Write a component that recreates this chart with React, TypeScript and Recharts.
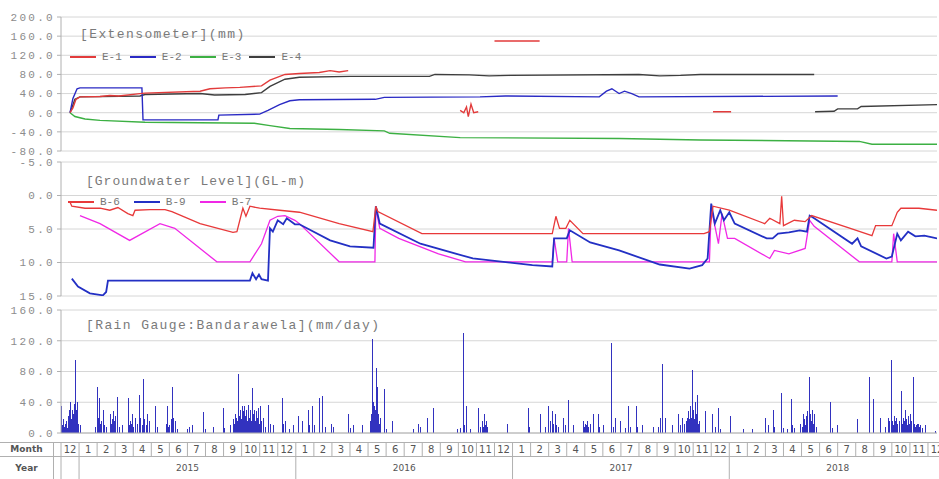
import React from 'react';
import { ComposedChart, Line, Bar, XAxis, YAxis, CartesianGrid } from 'recharts';

// x values are months since 1 Dec 2014 (0 = Dec 2014, 1 = Jan 2015, ... 48 = Dec 2018)
const X_DOMAIN: [number, number] = [0, 48.5];

// ---- Extensometer (mm) ----
const extTicks = [-80, -40, 0, 40, 80, 120, 160, 200];
const e1: [number, number | null][] = [
  [0.5, 0], [0.66, 10], [0.83, 28], [1.05, 33], [2.16, 34], [2.7, 36], [3.2, 35], [4.37, 40],
  [4.65, 41], [7.7, 45], [8.25, 50], [9.1, 52], [9.9, 53], [11.1, 56], [11.57, 68], [12.4, 80],
  [13.2, 82], [14.3, 84], [14.9, 88], [15.4, 85], [15.9, 88], [16.0, null],
  [22.1, 5], [22.3, 0], [22.45, 12], [22.55, -8], [22.7, 18], [22.85, 0], [23.1, 2], [23.2, null],
  [24.0, 150], [26.5, 150], [26.6, null],
  [36.1, 2], [37.1, 2],
];
const e2: [number, number | null][] = [
  [0.5, 0], [0.66, 30], [0.89, 50], [1.05, 52], [4.48, 52], [4.54, -15], [8.69, -15], [8.74, -5],
  [11.0, -3], [11.46, 5], [12.1, 17], [12.67, 25], [13.2, 27], [17.4, 28], [17.9, 32], [23.2, 33],
  [24.6, 35], [29.8, 33], [30.2, 45], [30.5, 50], [30.9, 40], [31.2, 45], [31.6, 40], [32.0, 33],
  [43.0, 35],
];
const e3: [number, number | null][] = [
  [0.5, 0], [0.77, -8], [1.33, -13], [2.16, -16], [4.65, -20], [7.7, -21], [10.7, -22],
  [11.57, -27], [12.67, -33], [15.4, -35], [17.9, -38], [18.2, -43], [22.1, -52], [30.9, -54],
  [35.4, -57], [44.2, -60], [44.9, -66], [48.5, -66],
];
const e4: [number, number | null][] = [
  [0.5, 0], [0.6, 10], [0.77, 28], [1.05, 33], [4.37, 35], [4.65, 38], [7.7, 40], [8.5, 37],
  [10.2, 38], [11.1, 42], [11.57, 55], [12.4, 70], [13.2, 74], [16.0, 76], [20.4, 76], [20.7, 80],
  [22.6, 79], [23.7, 77], [24.85, 78], [32.0, 80], [33.15, 77], [34.3, 78], [35.4, 80], [41.7, 80],
  [41.72, null],
  [41.75, 2], [42.8, 3], [43.0, 8], [44.1, 8], [44.3, 13], [48.5, 17],
];

// ---- Groundwater level (GL-m) ----
const gwTicks = [-5, 0, 5, 10, 15];
const b6: [number, number][] = [
  [0.5, 1.0], [0.6, 1.6], [1.33, 1.9], [2.16, 1.9], [2.7, 2.2], [3.15, 1.8], [3.7, 2.7], [3.98, 3.0],
  [4.1, 2.2], [4.93, 2.1], [5.76, 2.1], [6.14, 2.4], [7.7, 4.2], [9.52, 5.5], [9.74, 5.4],
  [10.07, 1.9], [10.24, 3.1], [10.46, 1.6], [11.0, 1.9], [12.1, 2.2], [13.2, 2.5], [15.4, 4.2],
  [17.27, 5.4], [17.43, 1.6], [17.54, 2.4], [19.98, 5.7], [27.2, 5.7], [27.4, 3.1], [27.6, 4.9],
  [27.95, 4.9], [28.17, 3.7], [28.9, 5.7], [35.6, 5.7], [35.9, 5.4], [36.1, 1.6], [37.0, 2.2],
  [38.96, 4.2], [39.24, 3.4], [39.8, 4.2], [39.9, 0.1], [40.0, 4.5], [40.6, 3.7], [41.2, 3.9],
  [41.56, 3.0], [43.7, 4.9], [44.9, 6.0], [45.1, 4.5], [46.0, 4.5], [46.3, 2.5], [46.5, 1.9],
  [47.5, 1.9], [48.5, 2.2],
];
const b9: [number, number][] = [
  [0.6, 12.4], [0.94, 13.6], [1.6, 14.6], [2.32, 14.9], [2.5, 14.4], [2.6, 12.7], [10.46, 12.7],
  [10.6, 11.6], [10.8, 12.5], [10.96, 11.8], [11.1, 12.5], [11.46, 12.7], [11.57, 4.9],
  [11.73, 5.4], [12.0, 3.7], [12.3, 4.3], [12.5, 3.4], [12.95, 4.3], [13.2, 4.3], [14.9, 6.7],
  [16.0, 7.6], [17.3, 7.8], [17.43, 1.6], [17.65, 4.2], [19.9, 7.2], [22.8, 9.4], [26.1, 10.4],
  [27.2, 10.6], [27.3, 6.4], [28.0, 6.4], [28.17, 5.2], [29.3, 7.0], [30.9, 8.2], [33.15, 10.3],
  [34.8, 10.9], [35.5, 10.4], [35.8, 9.4], [36.0, 1.2], [36.2, 4.2], [36.5, 2.2], [36.7, 3.7],
  [37.0, 2.5], [37.3, 4.2], [39.07, 6.4], [39.4, 6.4], [39.7, 5.7], [40.3, 5.5], [40.9, 5.2],
  [41.3, 5.4], [41.45, 3.0], [41.7, 3.4], [43.8, 7.2], [44.1, 6.4], [44.3, 7.6], [45.7, 9.4],
  [46.0, 9.1], [46.3, 5.7], [46.5, 6.7], [46.9, 5.4], [47.3, 6.1], [47.8, 6.0], [48.5, 6.4],
];
const b7: [number, number][] = [
  [1.05, 3.0], [2.16, 4.2], [3.8, 6.7], [5.48, 4.2], [6.3, 4.9], [8.63, 9.9], [10.46, 9.9],
  [11.1, 7.2], [11.57, 3.7], [12.0, 3.1], [12.4, 3.0], [12.95, 3.7], [13.2, 4.2], [15.4, 9.9],
  [17.38, 9.9], [17.43, 1.9], [17.65, 4.9], [18.7, 6.4], [20.9, 8.7], [22.4, 9.9], [27.2, 9.9],
  [27.3, 6.4], [27.5, 9.9], [28.0, 9.9], [28.1, 4.9], [28.3, 9.9], [35.9, 9.9], [36.0, 1.9],
  [36.4, 7.2], [36.6, 2.7], [36.9, 6.4], [37.3, 6.4], [39.24, 9.4], [39.5, 8.2], [40.3, 8.7],
  [41.2, 7.9], [41.45, 3.7], [41.7, 4.6], [44.2, 9.9], [46.0, 9.9], [46.1, 5.7], [46.3, 9.9],
  [48.5, 9.9],
];

// ---- Rain gauge (mm/day) ----
const rainTicks = [0, 40, 80, 120, 160];
const rain: [number, number][] = [
  [0.0, 35], [0.05, 10], [0.1, 18], [0.15, 8], [0.2, 12], [0.28, 15], [0.35, 6], [0.4, 22],
  [0.45, 30], [0.5, 40], [0.55, 18], [0.6, 30], [0.65, 25], [0.7, 38], [0.77, 95], [0.83, 30],
  [0.89, 40], [0.95, 12], [1.05, 10], [1.9, 8], [1.99, 60], [2.05, 20], [2.1, 45], [2.15, 12],
  [2.2, 15], [2.32, 30], [2.4, 10], [2.5, 8], [2.7, 25], [2.75, 12], [2.8, 18], [2.85, 10],
  [2.9, 28], [2.95, 15], [3.0, 22], [3.1, 47], [3.2, 8], [3.38, 10], [3.71, 45], [3.76, 10],
  [3.8, 15], [3.88, 12], [3.93, 25], [4.0, 8], [4.1, 20], [4.2, 12], [4.32, 50], [4.4, 20],
  [4.47, 10], [4.54, 70], [4.62, 18], [4.7, 10], [4.76, 25], [4.87, 15], [5.2, 35], [5.3, 8],
  [5.8, 12], [5.87, 35], [5.95, 8], [6.0, 10], [6.07, 18], [6.14, 60], [6.2, 20], [6.3, 15],
  [6.45, 5], [7.0, 5], [7.1, 8], [7.25, 10], [7.86, 27], [7.95, 5], [8.41, 8], [8.97, 33],
  [9.05, 6], [9.35, 10], [9.5, 8], [9.55, 18], [9.6, 12], [9.65, 25], [9.7, 20], [9.75, 15],
  [9.8, 77], [9.85, 22], [9.88, 15], [9.92, 30], [9.96, 18], [10.0, 35], [10.04, 20],
  [10.08, 28], [10.12, 18], [10.15, 35], [10.2, 22], [10.25, 30], [10.3, 15], [10.35, 36],
  [10.4, 20], [10.46, 30], [10.5, 15], [10.57, 58], [10.62, 18], [10.65, 25], [10.7, 30],
  [10.75, 15], [10.8, 28], [10.85, 20], [10.9, 32], [10.95, 12], [11.0, 35], [11.05, 10],
  [11.1, 15], [11.18, 20], [11.3, 8], [11.46, 37], [11.55, 12], [11.73, 10], [12.23, 45],
  [12.3, 12], [12.4, 15], [12.6, 5], [12.84, 10], [13.12, 22], [13.34, 15], [13.67, 30],
  [13.75, 10], [13.89, 35], [14.0, 10], [14.28, 45], [14.44, 48], [14.6, 8], [14.94, 12],
  [15.05, 8], [15.88, 25], [16.0, 6], [16.16, 10], [16.66, 10], [17.1, 15], [17.15, 25],
  [17.21, 122], [17.24, 30], [17.27, 40], [17.3, 22], [17.32, 35], [17.35, 28], [17.38, 30],
  [17.43, 85], [17.46, 35], [17.49, 60], [17.52, 20], [17.55, 25], [17.6, 12], [17.65, 20],
  [17.88, 57], [18.0, 5], [18.32, 15], [19.48, 5], [19.76, 12], [19.85, 8], [20.25, 20],
  [20.59, 32], [21.91, 5], [22.1, 6], [22.25, 130], [22.33, 10], [22.41, 35], [22.63, 5],
  [23.08, 33], [23.2, 8], [23.3, 15], [23.35, 8], [23.41, 25], [23.47, 10], [23.52, 15],
  [23.6, 8], [24.68, 12], [25.84, 32], [25.9, 8], [26.51, 25], [26.8, 8], [26.95, 35],
  [27.05, 15], [27.1, 10], [27.17, 28], [27.25, 12], [27.34, 25], [27.42, 10], [27.5, 8],
  [27.78, 20], [27.9, 10], [28.06, 43], [28.33, 10], [28.9, 15], [28.95, 8], [29.0, 12],
  [29.05, 10], [29.1, 15], [29.2, 8], [29.3, 12], [29.44, 25], [29.72, 25], [29.8, 8],
  [30.0, 10], [30.44, 117], [30.55, 8], [30.66, 20], [30.94, 15], [31.2, 6], [31.38, 35],
  [31.5, 8], [31.82, 35], [31.9, 8], [32.15, 10], [32.76, 8], [33.05, 8], [33.15, 20],
  [33.26, 90], [33.43, 20], [33.81, 10], [34.14, 25], [34.25, 10], [34.37, 20], [34.5, 12],
  [34.6, 15], [34.64, 20], [34.68, 12], [34.72, 28], [34.77, 18], [34.81, 35], [34.86, 20],
  [34.92, 82], [34.96, 25], [35.0, 30], [35.05, 18], [35.09, 40], [35.12, 20], [35.15, 25],
  [35.2, 50], [35.25, 12], [35.3, 15], [35.64, 28], [36.03, 25], [36.2, 8], [36.36, 32],
  [36.5, 5], [37.02, 22], [37.74, 5], [38.24, 5], [38.96, 20], [39.13, 10], [39.4, 30],
  [39.5, 8], [39.85, 52], [39.95, 6], [40.18, 5], [40.4, 44], [40.5, 10], [40.6, 6],
  [40.9, 12], [41.0, 8], [41.06, 25], [41.1, 12], [41.15, 18], [41.2, 10], [41.25, 22],
  [41.32, 28], [41.39, 73], [41.43, 20], [41.47, 25], [41.52, 15], [41.56, 30], [41.62, 12],
  [41.67, 25], [41.8, 8], [42.56, 40], [42.7, 6], [42.94, 10], [44.05, 18], [44.71, 73],
  [44.94, 44], [45.32, 20], [45.6, 8], [45.77, 20], [45.85, 15], [45.93, 95], [45.97, 12],
  [46.0, 15], [46.05, 10], [46.1, 22], [46.15, 15], [46.21, 20], [46.25, 10], [46.3, 12],
  [46.4, 15], [46.49, 55], [46.55, 12], [46.6, 20], [46.65, 15], [46.71, 30], [46.75, 12],
  [46.8, 18], [46.85, 10], [46.9, 22], [46.94, 12], [46.98, 25], [47.03, 10], [47.07, 15],
  [47.15, 73], [47.2, 10], [47.25, 12], [47.3, 8], [47.35, 10], [47.4, 12], [47.45, 12],
  [47.5, 8], [47.54, 10], [47.65, 6], [47.81, 10], [48.37, 2],
];

// ---- table below the rain chart ----
const monthLabels = ['12', '1', '2', '3', '4', '5', '6', '7', '8', '9', '10', '11'];
const yearLabels = ['2015', '2016', '2017', '2018'];

const MONO = '"Liberation Mono", "DejaVu Sans Mono", monospace';
const SANS = '"DejaVu Sans", "Liberation Sans", sans-serif';
const GRID = '#d6d6d6';
const AXIS = '#b0b0b0';
const RAIN = '#3232bf';

const toRows = (pts: [number, number | null][]) => pts.map(([t, v]) => ({ t, v }));

const yTick = { fill: '#8c8c8c', fontSize: 11, fontFamily: MONO, letterSpacing: 2.3 };

const monthTicks: number[] = [];
for (let k = 0; k <= 48; k++) monthTicks.push(k, k + 0.5);
const yearTicks = [0, 1, 7, 13, 19, 25, 31, 37, 43];

function MonthTick(props: any) {
  const { x, y, payload } = props;
  const v = payload.value as number;
  if (Number.isInteger(v)) {
    return <line x1={x} x2={x} y1={y + 9} y2={y + 23} stroke={AXIS} />;
  }
  const label = monthLabels[Math.floor(v) % 12];
  return (
    <text x={x} y={y + 20} textAnchor="middle" fontSize={10} fontFamily={SANS} fill="#555">
      {label}
    </text>
  );
}

function YearTick(props: any) {
  const { x, y, payload } = props;
  const v = payload.value as number;
  if ((v - 1) % 12 === 0 || v === 0) {
    return <line x1={x} x2={x} y1={y} y2={y + 22} stroke={AXIS} />;
  }
  const label = yearLabels[Math.floor((v - 7) / 12)];
  return (
    <text x={x} y={y + 14} textAnchor="middle" fontSize={9} fontFamily={SANS} fill="#555">
      {label}
    </text>
  );
}

// daily rain bars are narrower than a pixel at this scale, so draw each one as a crisp 1px stick
function RainStick(props: any) {
  const { x, y, width, height } = props;
  if (!height || height <= 0) return null;
  return (
    <rect x={Math.round(x + width / 2)} y={y} width={1} height={height}
      fill={RAIN} shapeRendering="crispEdges" />
  );
}

const titleStyle: React.CSSProperties = {
  position: 'absolute', fontFamily: MONO, fontSize: 13, letterSpacing: 1.4,
  color: '#7a7a7a', whiteSpace: 'nowrap', lineHeight: '14px',
};

function LegendRow({ items, top, left, gap }: {
  items: { name: string; color: string }[]; top: number; left: number; gap: number;
}) {
  return (
    <div style={{ position: 'absolute', top, left, display: 'flex', alignItems: 'center', gap }}>
      {items.map(it => (
        <div key={it.name} style={{ display: 'flex', alignItems: 'center' }}>
          <span style={{ width: 26, height: 2, background: it.color, display: 'inline-block' }} />
          <span style={{ marginLeft: 6, fontFamily: MONO, fontSize: 11, color: '#777', lineHeight: '12px' }}>
            {it.name}
          </span>
        </div>
      ))}
    </div>
  );
}

const extSeries = [
  { name: 'E-1', color: '#e23b3b', data: e1 },
  { name: 'E-2', color: '#2a2ac4', data: e2 },
  { name: 'E-3', color: '#3cb043', data: e3 },
  { name: 'E-4', color: '#3e3e3e', data: e4 },
];
const gwSeries = [
  { name: 'B-6', color: '#e8393a', data: b6 },
  { name: 'B-9', color: '#2330c4', data: b9 },
  { name: 'B-7', color: '#f028e6', data: b7 },
];

export default function App() {
  const rainRows = rain.map(([t, mm]) => ({ t, mm }));
  const cellLine = { position: 'absolute' as const, background: AXIS };
  return (
    <div style={{ position: 'absolute', left: 0, top: 0, width: 939, height: 479, background: '#fff', overflow: 'hidden' }}>
      {/* Rain (drawn first so the panels above can overhang it) */}
      <div style={{ position: 'absolute', left: 0, top: 300 }}>
        <ComposedChart width={939} height={179} data={rainRows} margin={{ top: 10, right: 2, bottom: 0, left: 0 }}>
          <CartesianGrid vertical={false} stroke={GRID} />
          <XAxis type="number" dataKey="t" domain={X_DOMAIN} allowDataOverflow ticks={monthTicks}
            interval={0} height={24} tickSize={0} tickMargin={0} tickLine={false}
            axisLine={{ stroke: AXIS }} tick={<MonthTick />} />
          <XAxis xAxisId="year" type="number" dataKey="t" domain={X_DOMAIN} allowDataOverflow
            ticks={yearTicks} interval={0} height={22} tickSize={0} tickMargin={0} tickLine={false}
            axisLine={false} tick={<YearTick />} />
          <YAxis type="number" domain={[0, 160]} ticks={rainTicks} width={61} allowDataOverflow
            tick={yTick} tickSize={4} tickLine={{ stroke: AXIS }} axisLine={{ stroke: AXIS }}
            tickFormatter={(v: number) => v.toFixed(1)} interval={0} />
          <Bar dataKey="mm" fill={RAIN} barSize={1} shape={<RainStick />} isAnimationActive={false} />
        </ComposedChart>
      </div>
      <div style={{ ...titleStyle, left: 86, top: 319 }}>[Rain Gauge:Bandarawela](mm/day)</div>

      {/* Extensometer */}
      <div style={{ position: 'absolute', left: 0, top: 0 }}>
        <ComposedChart width={939} height={157} margin={{ top: 17, right: 2, bottom: 6, left: 0 }}>
          <CartesianGrid vertical={false} stroke={GRID} />
          <XAxis type="number" dataKey="t" domain={X_DOMAIN} allowDataOverflow hide />
          <YAxis type="number" domain={[-80, 200]} ticks={extTicks} width={61} allowDataOverflow
            tick={yTick} tickSize={4} tickLine={{ stroke: AXIS }} axisLine={{ stroke: AXIS }}
            tickFormatter={(v: number) => v.toFixed(1)} interval={0} />
          {[extSeries[2], extSeries[3], extSeries[1], extSeries[0]].map(s => (
            <Line key={s.name} data={toRows(s.data)} dataKey="v" type="linear" stroke={s.color}
              strokeWidth={1.4} dot={false} isAnimationActive={false} connectNulls={false} />
          ))}
        </ComposedChart>
      </div>
      <div style={{ ...titleStyle, left: 80, top: 28 }}>[Extensometer](mm)</div>
      <LegendRow items={extSeries} top={51} left={70} gap={8} />

      {/* Groundwater */}
      <div style={{ position: 'absolute', left: 0, top: 157 }}>
        <ComposedChart width={939} height={150} margin={{ top: 5, right: 2, bottom: 11, left: 0 }}>
          <CartesianGrid vertical={false} stroke={GRID} />
          <XAxis type="number" dataKey="t" domain={X_DOMAIN} allowDataOverflow hide />
          <YAxis type="number" domain={[-5, 15]} reversed ticks={gwTicks} width={61} allowDataOverflow
            tick={yTick} tickSize={4} tickLine={{ stroke: AXIS }} axisLine={{ stroke: AXIS }}
            tickFormatter={(v: number) => v.toFixed(1)} interval={0} />
          {[gwSeries[2], gwSeries[1], gwSeries[0]].map(s => (
            <Line key={s.name} data={toRows(s.data)} dataKey="v" type="linear" stroke={s.color}
              strokeWidth={s.name === 'B-9' ? 1.8 : 1.3} dot={false} isAnimationActive={false} />
          ))}
        </ComposedChart>
      </div>
      <div style={{ ...titleStyle, left: 86, top: 175, letterSpacing: 1.0 }}>[Groundwater Level](GL-m)</div>
      <LegendRow items={gwSeries} top={196} left={68} gap={14} />

      {/* table frame */}
      <div style={{ ...cellLine, left: 0, top: 442, width: 939, height: 1 }} />
      <div style={{ ...cellLine, left: 0, top: 456, width: 939, height: 1 }} />
      <div style={{ ...cellLine, left: 53, top: 442, width: 1, height: 37 }} />
      <div style={{ position: 'absolute', left: 0, top: 443, width: 53, height: 13, textAlign: 'center',
        fontFamily: SANS, fontSize: 9, fontWeight: 'bold', color: '#555', lineHeight: '13px' }}>Month</div>
      <div style={{ position: 'absolute', left: 0, top: 457, width: 53, height: 22, textAlign: 'center',
        fontFamily: SANS, fontSize: 9, fontWeight: 'bold', color: '#555', lineHeight: '22px' }}>Year</div>
    </div>
  );
}
